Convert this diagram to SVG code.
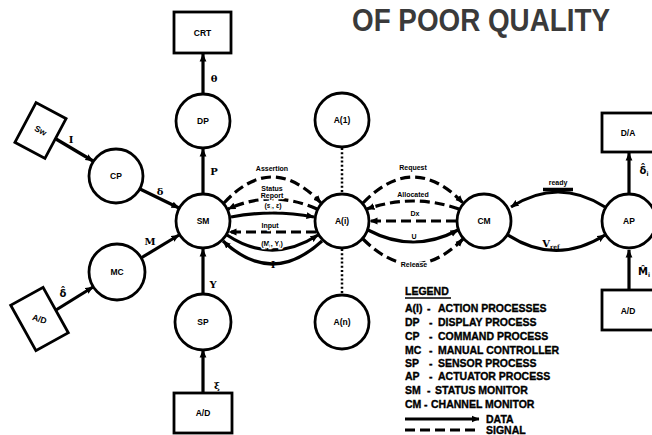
<svg xmlns="http://www.w3.org/2000/svg" width="652" height="435" viewBox="0 0 652 435">
  <style>
    .node { fill: #fff; stroke: #000; stroke-width: 2.8; }
    .box { fill: #fff; stroke: #000; stroke-width: 2.8; }
    .lbl { font-family: "Liberation Sans", Arial, sans-serif; font-weight: bold; font-size: 8.5px; fill: #000; text-anchor: middle; }
    .data { fill: none; stroke: #000; stroke-width: 3.2; }
    .sig { fill: none; stroke: #000; stroke-width: 3.2; stroke-dasharray: 10 5; }
    .dot { fill: none; stroke: #000; stroke-width: 2.5; stroke-dasharray: 2 2.2; }
    .cl { font-family: "Liberation Sans", Arial, sans-serif; font-weight: bold; font-size: 7px; fill: #000; text-anchor: middle;
          stroke: #fff; stroke-width: 2.5; paint-order: stroke; }
    .sym { font-family: "DejaVu Serif", "Liberation Serif", serif; font-weight: bold; font-size: 10px; fill: #000; text-anchor: middle; }
    .hat { font-family: "DejaVu Sans", sans-serif; font-weight: bold; font-size: 10px; fill: #000; text-anchor: middle; }
    .leg { font-family: "Liberation Sans", Arial, sans-serif; font-weight: bold; font-size: 10.5px; fill: #000; stroke: #000; stroke-width: 0.35; }
    .title { font-family: "Liberation Sans", Arial, sans-serif; font-weight: bold; font-size: 32px; fill: #3a3a3a; }
  </style>
  <defs>
    <marker id="ah" viewBox="0 0 8 8" refX="7.5" refY="4" markerWidth="8" markerHeight="8" markerUnits="userSpaceOnUse" orient="auto-start-reverse">
      <path d="M0,0.6 L8,4 L0,7.4 z" fill="#000"/>
    </marker>
  </defs>

  <rect width="652" height="435" fill="#fff"/>

  <text class="title" x="352" y="31" textLength="258" lengthAdjust="spacingAndGlyphs">OF POOR QUALITY</text>

  <!-- connectors -->
  <g id="connectors">
    <!-- vertical column through the status monitor -->
    <line class="data" x1="203" y1="94" x2="203" y2="54" marker-end="url(#ah)"/>
    <line class="data" x1="203" y1="193" x2="203" y2="149" marker-end="url(#ah)"/>
    <line class="data" x1="203" y1="294" x2="203" y2="249" marker-end="url(#ah)"/>
    <line class="data" x1="203" y1="393" x2="203" y2="350" marker-end="url(#ah)"/>
    <text class="sym" x="214" y="82">θ</text>
    <text class="sym" x="214" y="175">P</text>
    <text class="sym" x="213" y="288">Y</text>
    <text class="sym" x="217" y="389">ξ</text>

    <!-- left inputs -->
    <line class="data" x1="56" y1="139" x2="93" y2="161" marker-end="url(#ah)"/>
    <line class="data" x1="140" y1="189" x2="179" y2="208" marker-end="url(#ah)"/>
    <line class="data" x1="141" y1="258" x2="179" y2="235" marker-end="url(#ah)"/>
    <line class="data" x1="56" y1="310" x2="93" y2="287" marker-end="url(#ah)"/>
    <text class="sym" x="71" y="143">I</text>
    <text class="sym" x="160" y="195">δ</text>
    <text class="sym" x="150" y="245">M</text>
    <text class="hat" x="63" y="297">δ̂</text>

    <!-- status monitor to action process bundle -->
    <path class="sig" d="M224,203 Q272,151 321,203" marker-end="url(#ah)"/>
    <path class="sig" d="M317,209 Q272,189 228,209" marker-end="url(#ah)"/>
    <path class="data" d="M231,217 Q272,209 314,217" marker-end="url(#ah)"/>
    <path class="sig" d="M316,232 L229,232" marker-end="url(#ah)"/>
    <path class="data" d="M227,235 Q272,265 318,235" marker-end="url(#ah)"/>
    <path class="data" d="M322,241 Q272,287 223,241" marker-end="url(#ah)"/>
    <text class="cl" x="272" y="171">Assertion</text>
    <text class="cl" x="272" y="191" font-size="6.5">Status</text>
    <text class="cl" x="272" y="198" font-size="6.5">Report</text>
    <text class="cl" x="273" y="208">(s<tspan font-size="5" dy="1.5">i</tspan><tspan dy="-1.5">, ε)</tspan></text>
    <text class="cl" x="270" y="228">Input</text>
    <text class="cl" x="272" y="246">(M<tspan font-size="5" dy="1.5">i</tspan><tspan dy="-1.5">, Y</tspan><tspan font-size="5" dy="1.5">i</tspan><tspan dy="-1.5">)</tspan></text>
    <text class="sym" x="273" y="268" font-size="9">I</text>

    <!-- dotted links between action processes -->
    <line class="dot" x1="342" y1="148" x2="342" y2="193"/>
    <line class="dot" x1="342" y1="249" x2="342" y2="294"/>

    <!-- action process to channel monitor bundle -->
    <path class="sig" d="M363,203 Q413,151 463,203" marker-end="url(#ah)"/>
    <path class="sig" d="M459,209 Q413,193 367,209" marker-end="url(#ah)"/>
    <path class="sig" d="M456,221 L370,221" marker-end="url(#ah)"/>
    <path class="data" d="M368,230 Q413,254 458,230" marker-end="url(#ah)"/>
    <path class="sig" d="M363,239 Q413,289 463,239" marker-end="url(#ah)"/>
    <text class="cl" x="413" y="170">Request</text>
    <text class="cl" x="413" y="197">Allocated</text>
    <text class="cl" x="415" y="216">Dx</text>
    <text class="cl" x="414" y="239" font-size="8">U</text>
    <text class="cl" x="414" y="267">Release</text>

    <!-- channel monitor to actuator process -->
    <path class="data" d="M605,207 Q558,177 511,207" marker-end="url(#ah)"/>
    <path class="data" d="M508,235 Q556,266 605,235" marker-end="url(#ah)"/>
    <text class="cl" x="558" y="185">ready</text>
    <line x1="543" y1="189.5" x2="573" y2="189.5" stroke="#000" stroke-width="3.5"/>
    <text class="sym" x="551" y="247" font-size="9">V<tspan font-size="6" dy="2">ref</tspan></text>

    <!-- actuator process outputs -->
    <line class="data" x1="629" y1="193" x2="629" y2="153" marker-end="url(#ah)"/>
    <line class="data" x1="629" y1="290" x2="629" y2="250" marker-end="url(#ah)"/>
    <text class="hat" x="644" y="174">δ̂<tspan font-size="6" dy="2">i</tspan></text>
    <text class="hat" x="644" y="275">M̂<tspan font-size="6" dy="2">i</tspan></text>
  </g>

  <!-- nodes -->
  <g id="crt"><rect class="box" x="174" y="12" width="57" height="41"/><text class="lbl" x="202.5" y="36">CRT</text></g>
  <g id="dp"><circle class="node" cx="203" cy="121" r="27"/><text class="lbl" x="203" y="124">DP</text></g>
  <g id="sm"><circle class="node" cx="203" cy="221" r="27"/><text class="lbl" x="203" y="224">SM</text></g>
  <g id="sp"><circle class="node" cx="203" cy="322" r="28"/><text class="lbl" x="203" y="325">SP</text></g>
  <g id="ad-sp"><rect class="box" x="174" y="393" width="58" height="40"/><text class="lbl" x="203" y="416">A/D</text></g>

  <g id="cp"><circle class="node" cx="116" cy="176" r="27"/><text class="lbl" x="116" y="179">CP</text></g>
  <g id="mc"><circle class="node" cx="117" cy="272" r="28"/><text class="lbl" x="117" y="275">MC</text></g>
  <g id="sw" transform="translate(40.5,130.5) rotate(28)">
    <rect class="box" x="-17" y="-22.5" width="34" height="45"/>
    <text class="lbl" x="0" y="3">Sw</text>
  </g>
  <g id="ad-mc" transform="translate(39.5,319) rotate(-29)">
    <rect class="box" x="-18.5" y="-26" width="37" height="52"/>
    <text class="lbl" x="0" y="3" transform="rotate(45)">A/D</text>
  </g>

  <g id="a1"><circle class="node" cx="342" cy="120" r="27"/><text class="lbl" x="342" y="123">A(1)</text></g>
  <g id="ai"><circle class="node" cx="342" cy="221" r="27"/><text class="lbl" x="342" y="224">A(i)</text></g>
  <g id="an"><circle class="node" cx="342" cy="322" r="27"/><text class="lbl" x="342" y="325">A(n)</text></g>

  <g id="cm"><circle class="node" cx="484" cy="221" r="27"/><text class="lbl" x="484" y="224">CM</text></g>
  <g id="ap"><circle class="node" cx="629" cy="221" r="27"/><text class="lbl" x="629" y="224">AP</text></g>
  <g id="da"><rect class="box" x="602" y="113" width="60" height="39"/><text class="lbl" x="628" y="136">D/A</text></g>
  <g id="ad-ap"><rect class="box" x="602" y="290" width="60" height="40"/><text class="lbl" x="628" y="314">A/D</text></g>

  <!-- legend -->
  <g id="legend" class="leg">
    <text x="405" y="295">LEGEND</text>
    <line x1="405" y1="298" x2="451" y2="298" stroke-width="1.6"/>
    <text x="405" y="312">A(I)</text><text x="427" y="312">-</text><text x="438" y="312">ACTION PROCESSES</text>
    <text x="405" y="326">DP</text><text x="429" y="326">-</text><text x="438" y="326">DISPLAY PROCESS</text>
    <text x="405" y="340">CP</text><text x="429" y="340">-</text><text x="438" y="340">COMMAND PROCESS</text>
    <text x="405" y="354">MC</text><text x="429" y="354">-</text><text x="438" y="354">MANUAL CONTROLLER</text>
    <text x="405" y="367">SP</text><text x="429" y="367">-</text><text x="438" y="367">SENSOR PROCESS</text>
    <text x="405" y="380">AP</text><text x="429" y="380">-</text><text x="438" y="380">ACTUATOR PROCESS</text>
    <text x="405" y="394">SM</text><text x="427" y="394">-</text><text x="435" y="394">STATUS MONITOR</text>
    <text x="405" y="408">CM</text><text x="424" y="408">-</text><text x="431" y="408">CHANNEL MONITOR</text>
    <line class="data" x1="405" y1="419" x2="479" y2="419" stroke-width="3.5" marker-end="url(#ah)"/>
    <text x="486" y="423">DATA</text>
    <line class="sig" x1="405" y1="430" x2="479" y2="430" stroke-width="3.5"/>
    <text x="486" y="433.5">SIGNAL</text>
  </g>
</svg>
